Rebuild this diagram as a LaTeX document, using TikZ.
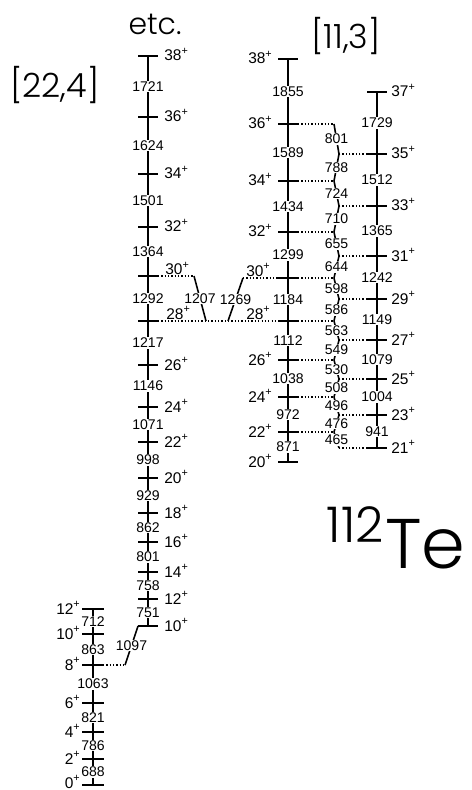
\documentclass[tikz,border=0pt]{standalone}
\usepackage{fontspec}
\setmainfont{Liberation Sans}
\newfontfamily\bigfont{Poppins}[UprightFont=* Light]

\begin{document}
\begin{tikzpicture}[x=0.02cm,y=-0.02cm,
    band/.style={line width=1.1pt},
    cross/.style={line width=0.9pt},
    link/.style={line width=0.7pt,dash pattern=on 0.7pt off 1.2pt},
    gam/.style={fill=white,inner sep=0.5pt,font=\fontsize{8}{9}\selectfont},
    spin/.style={inner sep=0pt,font=\fontsize{8.8}{10}\selectfont},
    title/.style={inner sep=0pt,font=\bigfont\fontsize{19}{22}\selectfont}]
    \useasboundingbox (0,0) rectangle (471,790);

    % level positions
    \foreach \s/\y in {38/56,36/117,34/174,32/227,30/276,28/321,26/365,24/407,22/442,20/478,18/513,16/542,14/572,12/599,10/626}
        \coordinate (A\s) at (148,\y);
    \foreach \s/\y in {38/59,36/124,34/181,32/232,30/278,28/321,26/360,24/397,22/432,20/462}
        \coordinate (B\s) at (288,\y);
    \foreach \s/\y in {37/92,35/154,33/206,31/256,29/299,27/340,25/379,23/415,21/448}
        \coordinate (C\s) at (377,\y);
    \foreach \s/\y in {12/609,10/634,8/665,6/703,4/732,2/759,0/785}
        \coordinate (G\s) at (93,\y);
    \foreach \s/\y in {36/124,34/181,32/232,30/278,28/321,26/360,24/397,22/432}
        \coordinate (k\s) at (334,\y);
    \foreach \s/\y in {35/154,33/206,31/256,29/299,27/340,25/379,23/415,21/448}
        \coordinate (k\s) at (339,\y);
    \coordinate (p1207a) at (194,276);
    \coordinate (p1207b) at (206,321);
    \coordinate (p1269a) at (243,278);
    \coordinate (p1269b) at (228,321);
    \coordinate (p1097a) at (138,626);
    \coordinate (p1097b) at (125,665);

    % dotted links
    \foreach \s in {36,34,32,30,28,26,24,22}
        \draw[link] (B\s) -- (k\s);
    \foreach \s in {35,33,31,29,27,25,23,21}
        \draw[link] (C\s) -- (k\s);
    \draw[link] (A30) -- (p1207a);
    \draw[link] (A28) -- (B28);
    \draw[link] (p1269a) -- (B30);
    \draw[link] (G8) -- (p1097b);

    % levels
    \foreach \s in {38,36,34,32,30,28,26,24,22,20,18,16,14,12,10}
        \draw[band] (A\s) ++(-10,0) -- ++(20,0);
    \foreach \s in {38,36,34,32,30,28,26,24,22,20}
        \draw[band] (B\s) ++(-10,0) -- ++(20,0);
    \foreach \s in {37,35,33,31,29,27,25,23,21}
        \draw[band] (C\s) ++(-10,0) -- ++(20,0);
    \foreach \s in {12,10,8,6,4,2,0}
        \draw[band] (G\s) ++(-11,0) -- ++(22,0);

    % in-band transitions
    \foreach \u/\l/\e in {38/36/1721,36/34/1624,34/32/1501,32/30/1364,30/28/1292,28/26/1217,26/24/1146,24/22/1071,22/20/998,20/18/929,18/16/862,16/14/801,14/12/758,12/10/751}
        \draw[band] (A\u) -- node[gam] (gA\u) {\e} (A\l);
    \foreach \u/\l/\e in {38/36/1855,36/34/1589,34/32/1434,32/30/1299,30/28/1184,28/26/1112,26/24/1038,24/22/972,22/20/871}
        \draw[band] (B\u) -- node[gam] (gB\u) {\e} (B\l);
    \foreach \u/\l/\e in {37/35/1729,35/33/1512,33/31/1365,31/29/1242,29/27/1149,27/25/1079,25/23/1004,23/21/941}
        \draw[band] (C\u) -- node[gam] (gC\u) {\e} (C\l);
    \foreach \u/\l/\e in {12/10/712,10/8/863,8/6/1063,6/4/821,4/2/786,2/0/688}
        \draw[band] (G\u) -- node[gam] (gG\u) {\e} (G\l);

    % interband transitions
    \foreach \u/\l/\e in {36/35/801,35/34/788,34/33/724,33/32/710,32/31/655,31/30/644,30/29/598,29/28/586,28/27/563,27/26/549,26/25/530,25/24/508,24/23/496,23/22/476,22/21/465}
        \draw[cross] (k\u) -- node[gam] (t\e) {\e} (k\l);
    \draw[cross] (p1207a) -- node[gam] (t1207) {1207} (p1207b);
    \draw[cross] (p1269b) -- node[gam] (t1269) {1269} (p1269a);
    \draw[cross] (p1097a) -- node[gam] (t1097) {1097} (p1097b);

    % spins
    \foreach \s/\y in {38/56,36/117,34/174,32/227,26/365,24/407,22/442,20/478,18/513,16/542,14/572,12/599,10/626}
        \node[spin,anchor=base west] (sA\s) at (164,{\y+5}) {\s\textsuperscript{+}};
    \node[spin,anchor=base west] (sA30) at (165,275) {30\textsuperscript{+}};
    \node[spin,anchor=base west] (sA28) at (166,319) {28\textsuperscript{+}};
    \foreach \s/\y in {38/59,36/124,34/181,32/232,26/360,24/397,22/432,20/462}
        \node[spin,anchor=base east] (sB\s) at (273,{\y+5}) {\s\textsuperscript{+}};
    \node[spin,anchor=base east] (sB30) at (271,276) {30\textsuperscript{+}};
    \node[spin,anchor=base east] (sB28) at (271,319) {28\textsuperscript{+}};
    \foreach \s/\y in {37/92,35/154,33/206,31/256,29/299,27/340,25/379,23/415,21/448}
        \node[spin,anchor=base west] (sC\s) at (391,{\y+5}) {\s\textsuperscript{+}};
    \foreach \s/\y in {12/609,10/634,8/665,6/703,4/732,2/759}
        \node[spin,anchor=base east] (sG\s) at (81,{\y+5}) {\s\textsuperscript{+}};
    \node[spin,anchor=base east] (sG0) at (81,788) {0\textsuperscript{+}};

    % titles
    \node[title,font=\bigfont\fontsize{17}{20}\selectfont] (etc) at (155,24) {etc.};
    \node[title] (nilA) at (55,85) {[22,4]};
    \node[title] (nilB) at (346,36) {[11,3]};
    \node[title,anchor=base west,font=\bigfont\fontsize{40}{44}\selectfont] (elem) at (385,568) {Te};
    \node[title,anchor=base east,font=\bigfont\fontsize{28}{30}\selectfont] (mass) at (384,542) {112};
\end{tikzpicture}
\end{document}
